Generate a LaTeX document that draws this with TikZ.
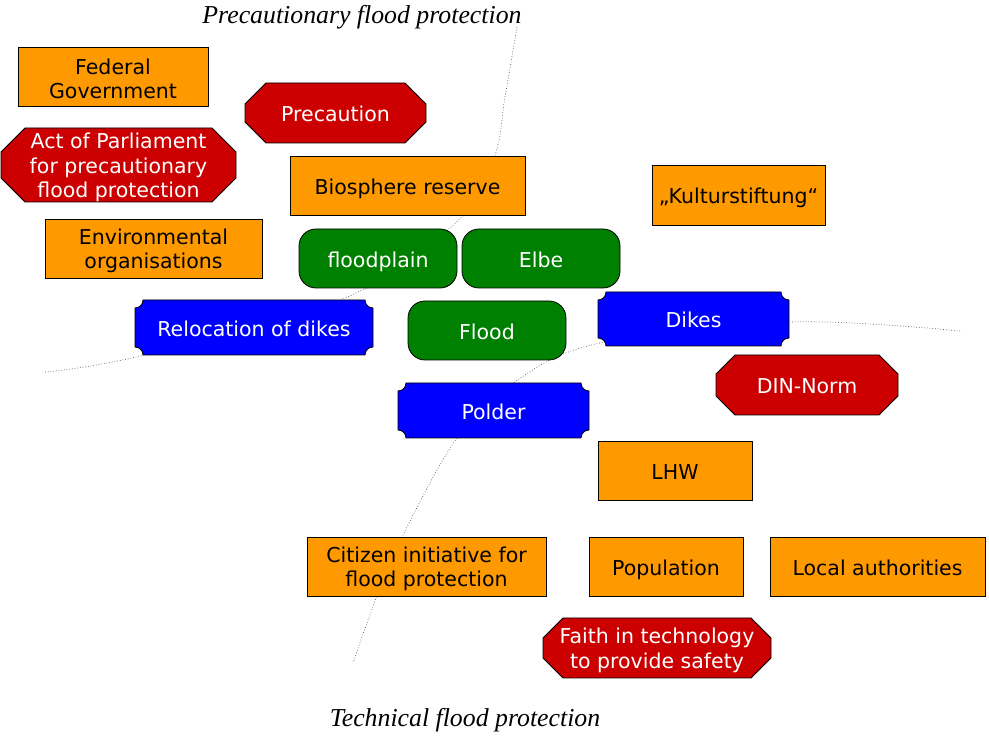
\documentclass[tikz,border=0pt]{standalone}
\usepackage{fontspec}
\setmainfont{DejaVu Sans}
\newfontfamily\titlefont{Liberation Serif}
\usetikzlibrary{calc}
\pgfdeclarelayer{background}
\pgfsetlayers{background,main}
\definecolor{orangefill}{RGB}{255,153,0}
\definecolor{redfill}{RGB}{204,0,0}
\definecolor{greenfill}{RGB}{0,128,0}
\definecolor{bluefill}{RGB}{0,0,255}
\definecolor{dotgray}{RGB}{90,90,90}
\tikzset{
  base/.style={rectangle, inner sep=0pt, outer sep=0pt, align=center,
    font=\fontsize{20.5}{24.5}\selectfont},
  oneline/.style={text height=17.6pt, text depth=4.9pt},
  obox/.style={base, text=black},
  gbox/.style={base, text=white},
  rbox/.style={base, text=white},
  bbox/.style={base, text=white},
  orangeshape/.style={fill=orangefill, draw=black, line width=0.8pt},
  greenshape/.style={fill=greenfill, draw=black, line width=0.8pt, rounded corners=17pt},
  redshape/.style={fill=redfill, draw=black, line width=0.8pt},
  blueshape/.style={fill=bluefill, draw=black, line width=0.8pt},
  dotline/.style={draw=dotgray, dotted, line width=0.7pt},
  titlelabel/.style={font=\titlefont\itshape\fontsize{25.8}{30}\selectfont, inner sep=0pt}
}
% text nodes sit 2.5pt below the box centre; shapes are drawn from the node anchors raised by \dy
\newcommand\dy{2.5pt}
\newcommand\rect[1]{\filldraw[orangeshape] ($(#1.north west)+(0,\dy)$) rectangle ($(#1.south east)+(0,\dy)$);}
\newcommand\rrect[1]{\filldraw[greenshape] ($(#1.north west)+(0,\dy)$) rectangle ($(#1.south east)+(0,\dy)$);}
\newcommand\octo[2]{\filldraw[redshape] ($(#1.north west)+(#2,\dy)$) -- ($(#1.north east)+(-#2,\dy)$) -- ($(#1.north east)+(0,-#2+\dy)$) -- ($(#1.south east)+(0,#2+\dy)$) -- ($(#1.south east)+(-#2,\dy)$) -- ($(#1.south west)+(#2,\dy)$) -- ($(#1.south west)+(0,#2+\dy)$) -- ($(#1.north west)+(0,-#2+\dy)$) -- cycle;}
\newcommand\plaque[2]{\filldraw[blueshape] ($(#1.north west)+(#2,\dy)$) -- ($(#1.north east)+(-#2,\dy)$) arc[start angle=180,end angle=270,radius=#2] -- ($(#1.south east)+(0,#2+\dy)$) arc[start angle=90,end angle=180,radius=#2] -- ($(#1.south west)+(#2,\dy)$) arc[start angle=0,end angle=90,radius=#2] -- ($(#1.north west)+(0,-#2+\dy)$) arc[start angle=270,end angle=360,radius=#2] -- cycle;}
\begin{document}
\begin{tikzpicture}[x=1pt,y=1pt]
\useasboundingbox (0,0) rectangle (989,737);
% dotted dividing curves
\begin{pgfonlayer}{background}
\draw[dotline] plot[smooth, tension=0.6] coordinates {(517,710) (505,640) (495,582) (464,522) (343,438) (140,381) (45,365)};
\draw[dotline] plot[smooth, tension=0.6] coordinates {(960,406) (790,415) (600,394) (513,354) (457,299) (402,200) (377,141) (353,74)};
\end{pgfonlayer}
% titles
\node[titlelabel] (ttop) at (362,720) {Precautionary flood protection};
\node[titlelabel] (tbot) at (465,17) {Technical flood protection};
% orange boxes
\node[obox, minimum width=190pt, minimum height=59pt] (fed) at (113,658) {Federal\\Government};
\node[obox, oneline, minimum width=235pt, minimum height=59pt] (bio) at (407.5,549) {Biosphere reserve};
\node[obox, oneline, minimum width=173pt, minimum height=60pt] (kult) at (738.5,539.5) {„Kulturstiftung“};
\node[obox, minimum width=217pt, minimum height=59pt] (env) at (153.5,486) {Environmental\\organisations};
\node[obox, oneline, minimum width=154pt, minimum height=59pt] (lhw) at (675,264) {LHW};
\node[obox, minimum width=239pt, minimum height=59pt] (cit) at (426.5,168) {Citizen initiative for\\flood protection};
\node[obox, oneline, minimum width=154pt, minimum height=59pt] (pop) at (666,168) {Population};
\node[obox, oneline, minimum width=215pt, minimum height=59pt] (loc) at (877.5,168) {Local authorities};
% green boxes
\node[gbox, oneline, minimum width=158pt, minimum height=59pt] (fp) at (378,476) {floodplain};
\node[gbox, oneline, minimum width=158pt, minimum height=59pt] (elbe) at (541,476) {Elbe};
\node[gbox, oneline, minimum width=158pt, minimum height=59pt] (flood) at (487,404) {Flood};
% red octagons
\node[rbox, oneline, minimum width=181pt, minimum height=60pt] (prec) at (335.5,621.5) {Precaution};
\node[rbox, minimum width=235pt, minimum height=74pt] (act) at (118.5,569.5) {Act of Parliament\\for precautionary\\flood protection};
\node[rbox, oneline, minimum width=182pt, minimum height=60pt] (din) at (807,349.5) {DIN-Norm};
\node[rbox, minimum width=228pt, minimum height=60pt] (faith) at (657,86.5) {Faith in technology\\to provide safety};
% blue plaques
\node[bbox, oneline, minimum width=238pt, minimum height=55pt] (reloc) at (254,407) {Relocation of dikes};
\node[bbox, oneline, minimum width=191pt, minimum height=54pt] (dikes) at (693.5,415.5) {Dikes};
\node[bbox, oneline, minimum width=191pt, minimum height=55pt] (polder) at (493.5,324) {Polder};
% shapes behind the texts
\begin{pgfonlayer}{background}
\rect{fed} \rect{bio} \rect{kult} \rect{env} \rect{lhw} \rect{cit} \rect{pop} \rect{loc}
\rrect{fp} \rrect{elbe} \rrect{flood}
\octo{prec}{21pt}
\octo{act}{24pt}
\octo{din}{19pt}
\octo{faith}{20pt}
\plaque{reloc}{8pt}
\plaque{dikes}{8pt}
\plaque{polder}{8pt}
\end{pgfonlayer}
\end{tikzpicture}
\end{document}
